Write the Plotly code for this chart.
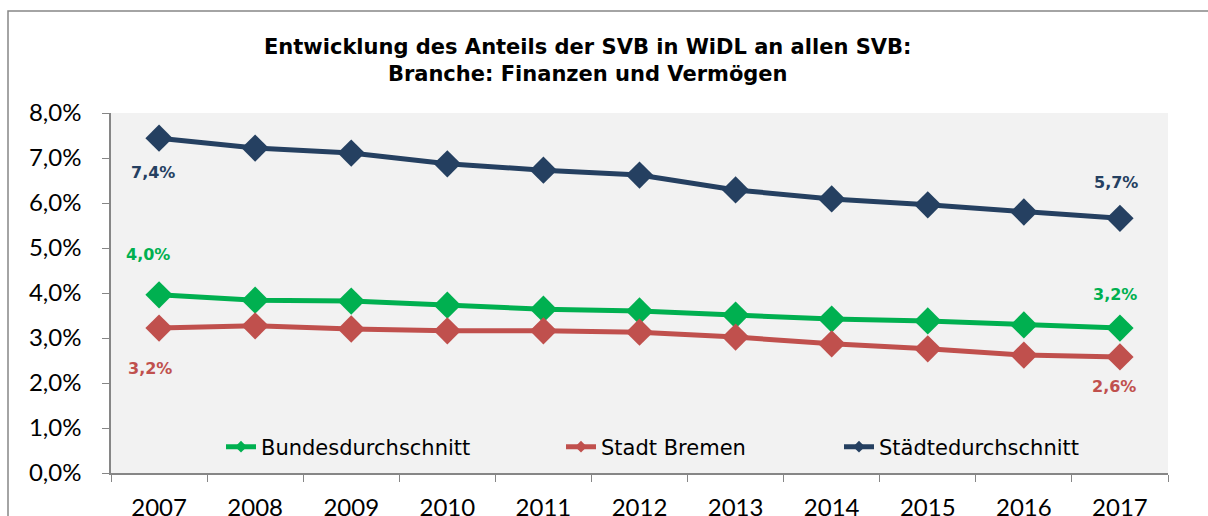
import plotly.graph_objects as go

years = ["2007", "2008", "2009", "2010", "2011", "2012", "2013", "2014", "2015", "2016", "2017"]
bund = [3.96, 3.84, 3.82, 3.73, 3.64, 3.60, 3.51, 3.42, 3.38, 3.29, 3.22]
bremen = [3.22, 3.27, 3.20, 3.16, 3.16, 3.13, 3.02, 2.87, 2.76, 2.62, 2.58]
staedte = [7.44, 7.22, 7.11, 6.87, 6.73, 6.62, 6.29, 6.09, 5.96, 5.80, 5.66]
names = ["Bundesdurchschnitt", "Stadt Bremen", "Städtedurchschnitt"]
title_lines = ["Entwicklung des Anteils der SVB in WiDL an allen SVB:", "Branche: Finanzen und Vermögen"]

C_GREEN = "#00B050"
C_RED = "#C0504D"
C_NAVY = "#254061"

W, H = 1208, 516
L, R, T, B = 111, 40, 113, 43
PW, PH = W - L - R, H - T - B

fig = go.Figure()
series = [(bund, C_GREEN, names[0]), (bremen, C_RED, names[1]), (staedte, C_NAVY, names[2])]
for vals, col, nm in series:
    fig.add_trace(go.Scatter(x=years, y=vals, mode="lines+markers", name=nm, showlegend=False,
                             line=dict(color=col, width=5),
                             marker=dict(symbol="diamond", size=21, color=col)))

legend_ids = ["legend", "legend2", "legend3"]
legend_text_x = [262, 602, 880]
for (vals, col, nm), lid in zip(series, legend_ids):
    fig.add_trace(go.Scatter(x=[None], y=[None], mode="lines+markers", name=nm, showlegend=True,
                             legend=lid,
                             line=dict(color=col, width=5),
                             marker=dict(symbol="diamond", size=9, color=col)))

def fmt(v):
    return f"{v:.1f}".replace(".", ",") + "%"

# data labels: (series values, color, index, yshift, xshift)
labels = [(staedte, C_NAVY, 0, -34, -6), (bund, C_GREEN, 0, 40, -11), (bremen, C_RED, 0, -40, -9),
          (staedte, C_NAVY, 10, 36, -4), (bund, C_GREEN, 10, 34, -5), (bremen, C_RED, 10, -30, -6)]
for vals, col, i, ys, xs in labels:
    fig.add_annotation(x=i, y=vals[i], xref="x", yref="y", text="<b>" + fmt(vals[i]) + "</b>",
                       showarrow=False, yshift=ys, xshift=xs,
                       font=dict(family="DejaVu Sans", size=16, color=col))

# title
fig.add_annotation(xref="paper", yref="paper", x=(587 - L) / PW, y=(H - B - 60) / PH,
                   text="<b>" + "<br>".join(title_lines) + "</b>", showarrow=False,
                   xanchor="center", yanchor="middle", align="center",
                   font=dict(family="DejaVu Sans", size=21, color="#000000"))

# outer border
fig.add_shape(type="rect", xref="paper", yref="paper",
              x0=(8 - L) / PW, x1=(1220 - L) / PW, y0=(H - B - 530) / PH, y1=(H - B - 11) / PH,
              line=dict(color="#868686", width=1.5), fillcolor="rgba(0,0,0,0)", layer="below")

legend_common = dict(orientation="h", xanchor="left", yanchor="middle", y=(H - B - 447) / PH,
                     bgcolor="rgba(0,0,0,0)", font=dict(family="DejaVu Sans", size=21, color="#000000"),
                     itemwidth=30)
legends = {}
for lid, tx in zip(legend_ids, legend_text_x):
    legends[lid] = dict(legend_common, x=(tx - 41 - L) / PW)

fig.update_layout(
    width=W, height=H,
    margin=dict(l=L, r=R, t=T, b=B, autoexpand=False),
    paper_bgcolor="white", plot_bgcolor="#F2F2F2",
    separators=",.",
    **legends,
    xaxis=dict(type="category", range=[-0.5, 10.5], tickson="boundaries", ticks="outside", ticklen=7,
               tickcolor="#868686", showline=True, linecolor="#868686", linewidth=1.5, showgrid=False,
               ticklabelstandoff=12,
               tickfont=dict(family="Lato", size=24, color="#000000"), zeroline=False),
    yaxis=dict(range=[0, 8], dtick=1, tickformat=".1f", ticksuffix="%", ticks="outside", ticklen=7,
               tickcolor="#868686", showline=True, linecolor="#868686", linewidth=1.5, showgrid=False,
               ticklabelstandoff=16,
               tickfont=dict(family="Lato", size=24, color="#000000"), zeroline=False),
)

fig.write_html("out.html", config={"displayModeBar": False},
               post_script="document.body.style.margin='0';document.body.style.overflow='hidden';")
